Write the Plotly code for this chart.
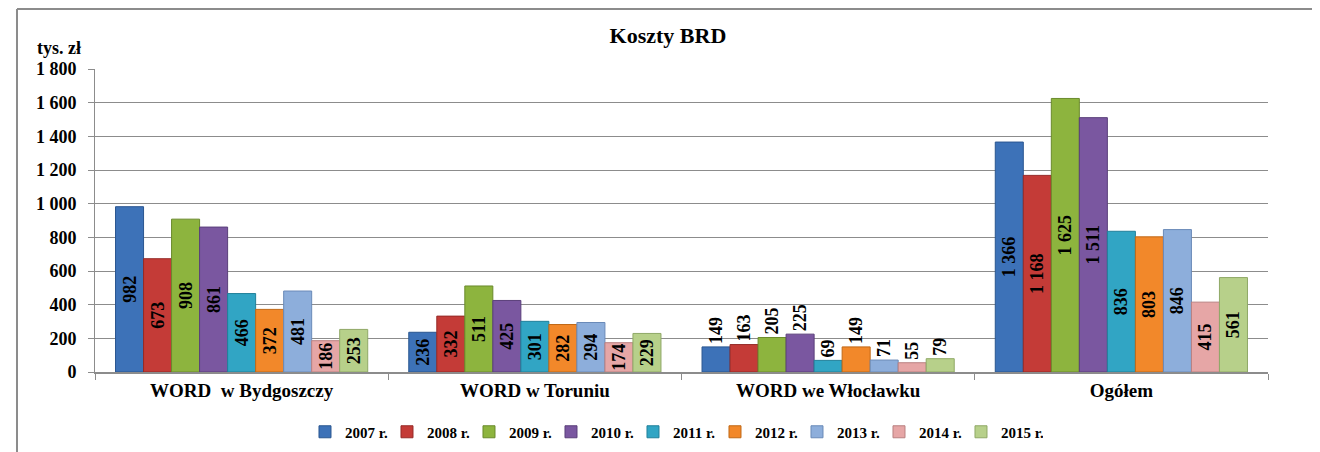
import plotly.graph_objects as go

categories = ["WORD  w Bydgoszczy", "WORD w Toruniu", "WORD we Włocławku", "Ogółem"]
years = ["2007 r.", "2008 r.", "2009 r.", "2010 r.", "2011 r.", "2012 r.", "2013 r.", "2014 r.", "2015 r."]
v2007 = [982, 236, 149, 1366]
v2008 = [673, 332, 163, 1168]
v2009 = [908, 511, 205, 1625]
v2010 = [861, 425, 225, 1511]
v2011 = [466, 301, 69, 836]
v2012 = [372, 282, 149, 803]
v2013 = [481, 294, 71, 846]
v2014 = [186, 174, 55, 415]
v2015 = [253, 229, 79, 561]
series = [v2007, v2008, v2009, v2010, v2011, v2012, v2013, v2014, v2015]
colors = ['#3D72B8', '#C43B37', '#8DB43E', '#7A57A0', '#31A5C4', '#F2882A', '#8DAEDB', '#E6A6A6', '#B7D08A']
edges = ['#2A5690', '#962A27', '#6A8A2C', '#5A3F7A', '#21809A', '#C06816', '#6A8AB8', '#B98080', '#8FA866']
text_pos = ["inside", "inside", "outside", "inside"]

FONT = "Liberation Serif, Times New Roman, serif"

fig = go.Figure()
for name, vals, c, e in zip(years, series, colors, edges):
    fig.add_trace(go.Bar(
        name=name, x=categories, y=vals,
        marker=dict(color=c, line=dict(color=e, width=1)),
        texttemplate="%{y:,d}", textposition=text_pos, textangle=-90,
        insidetextanchor="middle",
        textfont=dict(family=FONT, size=18, color="black", weight="bold"),
        cliponaxis=False,
    ))

fig.update_layout(
    width=1312, height=444,
    paper_bgcolor="white", plot_bgcolor="white",
    margin=dict(l=87, r=52, t=61, b=80, autoexpand=False),
    barmode="group", bargap=0.14, bargroupgap=0,
    separators=", ",
    uniformtext=dict(minsize=18, mode="show"),
    title=dict(text="<b>Koszty BRD</b>", x=0.503, xanchor="center", y=0.939, yanchor="middle",
               font=dict(family=FONT, size=22, color="black")),
    font=dict(family=FONT, color="black"),
    legend=dict(orientation="h", x=0.4936, xanchor="center", yref="container", y=0.045, yanchor="middle",
                font=dict(family=FONT, size=15, color="black", weight="bold"),
                itemwidth=30, traceorder="normal",
                entrywidth=37, entrywidthmode="pixels",
                itemclick=False),
    showlegend=True,
)
fig.update_yaxes(range=[0, 1800], dtick=200, tickformat=",d",
                 showgrid=True, gridcolor="#8C8C8C", gridwidth=1,
                 showline=True, linecolor="#8C8C8C", linewidth=1,
                 ticks="outside", ticklen=6, tickcolor="#8C8C8C", ticklabelstandoff=8,
                 tickfont=dict(family=FONT, size=18, color="black", weight="bold"),
                 zeroline=False)
fig.update_xaxes(showline=True, linecolor="#8C8C8C", linewidth=2,
                 ticks="outside", tickson="boundaries", ticklen=6, tickcolor="#8C8C8C",
                 tickfont=dict(family=FONT, size=19, color="black", weight="bold"))

fig.add_annotation(text="<b>tys. zł</b>", xref="paper", yref="paper", x=-0.0102, y=1.069,
                   xanchor="right", yanchor="middle", showarrow=False,
                   font=dict(family=FONT, size=18, color="black"))
# outer frame lines (top and left)
fig.add_shape(type="line", xref="paper", yref="paper", x0=-0.0665, x1=1.05, y0=1.198, y1=1.198,
              line=dict(color="#8C8C8C", width=2))
fig.add_shape(type="line", xref="paper", yref="paper", x0=-0.0665, x1=-0.0665, y0=1.198, y1=-0.27,
              line=dict(color="#8C8C8C", width=2))

fig.write_html("out.html")
